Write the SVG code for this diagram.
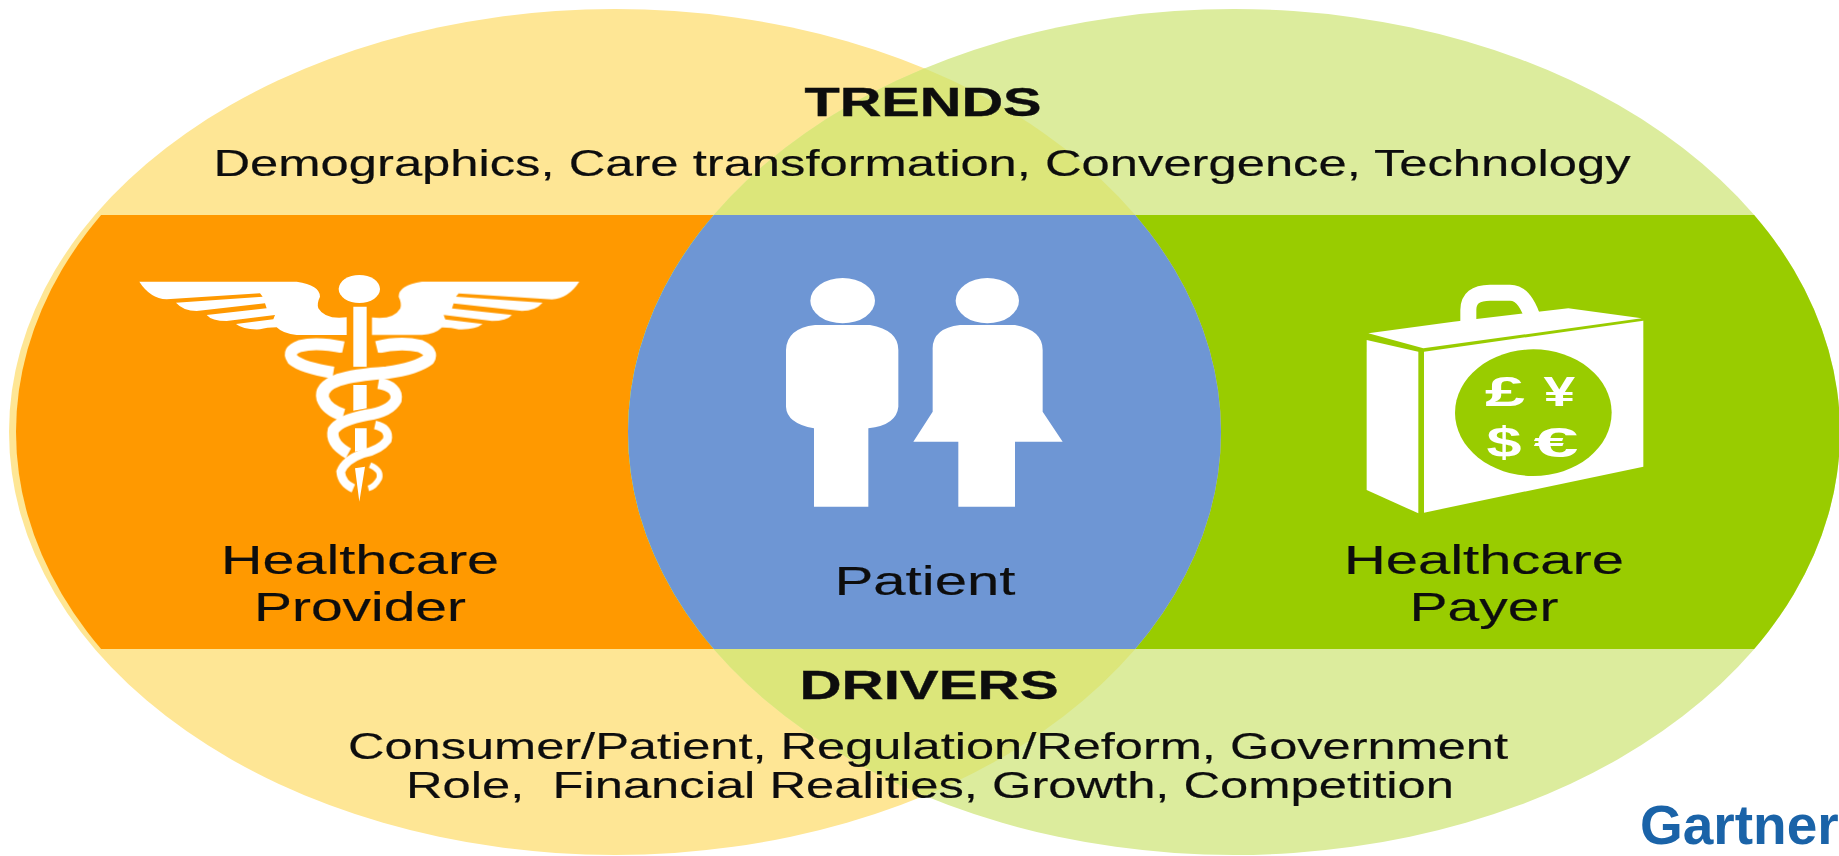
<svg xmlns="http://www.w3.org/2000/svg" width="1839" height="856" viewBox="0 0 1839 856">
<style>
text{font-family:"Liberation Sans",Arial,sans-serif;fill:#111;text-anchor:middle}
.b{font-weight:700;font-size:41px;stroke:#111;stroke-width:.4px}
.t{font-size:37px;stroke:#111;stroke-width:.2px}
.l{font-size:41px;stroke:#111;stroke-width:.2px}
.w{fill:#fff}
.c{fill:#fff;font-weight:700;font-size:128px}
.s{fill:none;stroke:#fff}
</style>
<defs>
<clipPath id="cl"><ellipse cx="615" cy="432" rx="606" ry="423"/></clipPath>
<clipPath id="band"><rect x="0" y="215" width="1839" height="434"/></clipPath>
<filter id="soft" x="-5%" y="-5%" width="110%" height="110%"><feGaussianBlur stdDeviation="0.7"/></filter>
<filter id="softer" x="-5%" y="-20%" width="110%" height="140%"><feGaussianBlur stdDeviation="0.5"/></filter>
<path id="wing" d="M118 125H590Q660 135 660 170Q650 190 655 205Q675 240 740 232V285H590Q550 282 530 262Q500 262 480 268Q430 270 408 252L520 238L525 225L380 243Q335 243 320 225L500 205L495 190L290 213Q250 213 228 188L488 170L480 160L200 178Q150 175 118 125Z"/>
</defs>
<rect width="1839" height="856" fill="#fff"/>
<g id="provider-circle">
<ellipse cx="615" cy="432" rx="606" ry="423" fill="#fee695"/>
<g clip-path="url(#band)"><ellipse cx="617" cy="432" rx="601" ry="423" fill="#ff9900"/></g>
</g>
<g id="payer-circle">
<ellipse cx="1234" cy="432" rx="606" ry="423" fill="#dcec9d"/>
<g clip-path="url(#band)"><ellipse cx="1234" cy="432" rx="606" ry="423" fill="#99cc00"/></g>
</g>
<g id="overlap" clip-path="url(#cl)">
<ellipse cx="1234" cy="432" rx="606" ry="423" fill="#dce67a"/>
<g clip-path="url(#band)"><ellipse cx="1234" cy="432" rx="606" ry="423" fill="#6e96d4"/></g>
</g>
<g id="trends" filter="url(#softer)">
<text class="b" x="923" y="116" textLength="237" lengthAdjust="spacingAndGlyphs">TRENDS</text>
<text class="t" x="922" y="176" textLength="1417" lengthAdjust="spacingAndGlyphs">Demographics, Care transformation, Convergence, Technology</text>
</g>
<g id="drivers" filter="url(#softer)">
<text class="b" x="929" y="699" textLength="259" lengthAdjust="spacingAndGlyphs">DRIVERS</text>
<text class="t" x="928" y="759" textLength="1160" lengthAdjust="spacingAndGlyphs">Consumer/Patient, Regulation/Reform, Government</text>
<text class="t" x="930" y="798" xml:space="preserve" textLength="1048" lengthAdjust="spacingAndGlyphs">Role,  Financial Realities, Growth, Competition</text>
</g>
<g id="healthcare-provider" filter="url(#soft)">
<g transform="translate(100 240) scale(.33333)">
<g class="w">
<ellipse cx="778" cy="147" rx="62" ry="42"/>
<path d="M760 200H800V380H760ZM760 435H800V505L760 512ZM765 565H800V628L765 635ZM765 685L795 680L778 785Z"/>
<use href="#wing"/>
<use href="#wing" transform="translate(1556 0) scale(-1 1)"/>
</g>
<g class="s" stroke-linecap="butt">
<path d="M730 322Q650 305 600 318Q560 332 578 358Q605 382 700 398" stroke-width="36"/>
<path d="M830 322Q900 305 960 318Q1000 335 985 358Q950 385 860 398Q760 405 715 420Q660 440 668 475Q680 510 730 525" stroke-width="38"/>
<path d="M835 430Q895 440 888 480Q870 515 800 525Q720 540 700 570Q690 610 745 640" stroke-width="34"/>
<path d="M825 555Q870 565 862 600Q840 630 790 640Q735 660 722 695Q725 730 760 745" stroke-width="26"/>
<path d="M810 675Q845 690 838 715Q825 740 805 745" stroke-width="17"/>
</g>
<path d="M650 336Q700 345 730 340M830 340Q860 345 910 336" fill="none" stroke="#ff9900" stroke-width="5"/>
</g>
</g>
<g id="provider-label" filter="url(#softer)">
<text class="l" x="360" y="574" textLength="278" lengthAdjust="spacingAndGlyphs">Healthcare</text>
<text class="l" x="360" y="621" textLength="212" lengthAdjust="spacingAndGlyphs">Provider</text>
</g>
<g id="patient">
<g filter="url(#soft)" transform="translate(740 250) scale(.33333)" class="w">
<ellipse cx="308" cy="152" rx="97" ry="68"/>
<path d="M225 225H390Q475 240 475 300V470Q470 525 385 535V770H222V535Q140 520 138 470V300Q140 235 225 225Z"/>
<ellipse cx="742" cy="152" rx="95" ry="68"/>
<path d="M660 225H825Q908 240 908 300V485L968 575H825V770H655V575H520L578 485V300Q575 235 660 225Z"/>
</g>
<text class="l" x="925" y="595" textLength="181" lengthAdjust="spacingAndGlyphs" filter="url(#softer)">Patient</text>
</g>
<g id="healthcare-payer">
<g filter="url(#soft)" transform="translate(1320 260) scale(.33333)">
<g class="w">
<path d="M145 220L400 185L745 145L965 175L310 265Z"/>
<path d="M140 240L295 275V760L140 690Z"/>
<path d="M312 275L970 182V620L312 758Z"/>
</g>
<path class="s" stroke-width="48" stroke-linecap="round" d="M445 190V150Q445 98 510 98H570Q615 98 640 180"/>
<ellipse cx="640" cy="458" rx="235" ry="190" fill="#99cc00"/>
<text class="c" x="555" y="438" textLength="120" lengthAdjust="spacingAndGlyphs">£</text>
<text class="c" x="718" y="438" textLength="95" lengthAdjust="spacingAndGlyphs">¥</text>
<text class="c" x="552" y="590" textLength="105" lengthAdjust="spacingAndGlyphs">$</text>
<text class="c" x="708" y="590" textLength="135" lengthAdjust="spacingAndGlyphs">€</text>
</g>
<g filter="url(#softer)">
<text class="l" x="1484" y="574" textLength="280" lengthAdjust="spacingAndGlyphs">Healthcare</text>
<text class="l" x="1484" y="621" textLength="149" lengthAdjust="spacingAndGlyphs">Payer</text>
</g>
</g>
<text id="gartner" x="1640" y="844" style="text-anchor:start;fill:#1a63a8;font-weight:700;font-size:55px">Gartner</text>
</svg>
